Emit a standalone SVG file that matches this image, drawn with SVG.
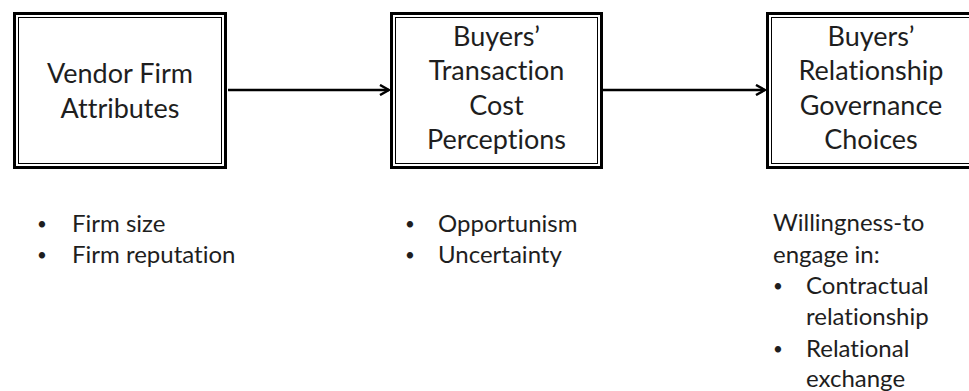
<svg xmlns="http://www.w3.org/2000/svg" width="969" height="391" viewBox="0 0 969 391">
  <style>
    text { font-variant-ligatures: none; font-feature-settings: "liga" 0; }
    .outer { fill: #fff; stroke: #000; stroke-width: 3; }
    .inner { fill: none; stroke: #000; stroke-width: 1; }
    .box-text { font-family: Lato, "Open Sans", sans-serif; font-size: 27px; fill: #1e1e1e; text-anchor: middle; }
    .list { font-family: Lato, "Open Sans", sans-serif; font-size: 24px; fill: #1e1e1e; }
    .bullet { text-anchor: middle; font-size: 17px; }
    .conn { stroke: #000; stroke-width: 2.5; fill: none; }
  </style>
  <defs>
    <marker id="head" viewBox="0 0 12 12" refX="11" refY="6" markerWidth="12" markerHeight="12" markerUnits="userSpaceOnUse" orient="auto">
      <path d="M2,1 L11,6 L2,11" fill="none" stroke="#000" stroke-width="2.5"/>
    </marker>
  </defs>
  <rect width="969" height="391" fill="#fff"/>

  <g id="connectors">
    <line class="conn" x1="228" y1="90" x2="389" y2="90" marker-end="url(#head)"/>
    <line class="conn" x1="603" y1="90" x2="765" y2="90" marker-end="url(#head)"/>
  </g>

  <g id="vendor-firm-attributes">
    <rect class="outer" x="14.5" y="13.5" width="211" height="154"/>
    <rect class="inner" x="18.5" y="17.5" width="203" height="146"/>
    <text class="box-text" x="120" y="83">Vendor Firm</text>
    <text class="box-text" x="120" y="118">Attributes</text>
  </g>

  <g id="transaction-cost-perceptions">
    <rect class="outer" x="391.5" y="13.5" width="210" height="154"/>
    <rect class="inner" x="395.5" y="17.5" width="202" height="146"/>
    <text class="box-text" x="496.5" y="45.5">Buyers’</text>
    <text class="box-text" x="496.5" y="80">Transaction</text>
    <text class="box-text" x="496.5" y="114.5">Cost</text>
    <text class="box-text" x="496.5" y="149">Perceptions</text>
  </g>

  <g id="relationship-governance-choices">
    <rect class="outer" x="767.5" y="13.5" width="208" height="154"/>
    <rect class="inner" x="771.5" y="17.5" width="200" height="146"/>
    <text class="box-text" x="871" y="45.5">Buyers’</text>
    <text class="box-text" x="871" y="80">Relationship</text>
    <text class="box-text" x="871" y="114.5">Governance</text>
    <text class="box-text" x="871" y="149">Choices</text>
  </g>

  <g id="vendor-list" class="list">
    <text class="bullet" x="42" y="230">•</text>
    <text x="72" y="232">Firm size</text>
    <text class="bullet" x="42" y="261">•</text>
    <text x="72" y="263">Firm reputation</text>
  </g>

  <g id="perception-list" class="list">
    <text class="bullet" x="410" y="230">•</text>
    <text x="438" y="232">Opportunism</text>
    <text class="bullet" x="410" y="261">•</text>
    <text x="438" y="263">Uncertainty</text>
  </g>

  <g id="governance-list" class="list">
    <text x="773" y="231">Willingness-to</text>
    <text x="773" y="262.5">engage in:</text>
    <text class="bullet" x="778" y="292">•</text>
    <text x="806" y="294">Contractual</text>
    <text x="806" y="325">relationship</text>
    <text class="bullet" x="778" y="354.5">•</text>
    <text x="806" y="356.5">Relational</text>
    <text x="806" y="387">exchange</text>
  </g>
</svg>
